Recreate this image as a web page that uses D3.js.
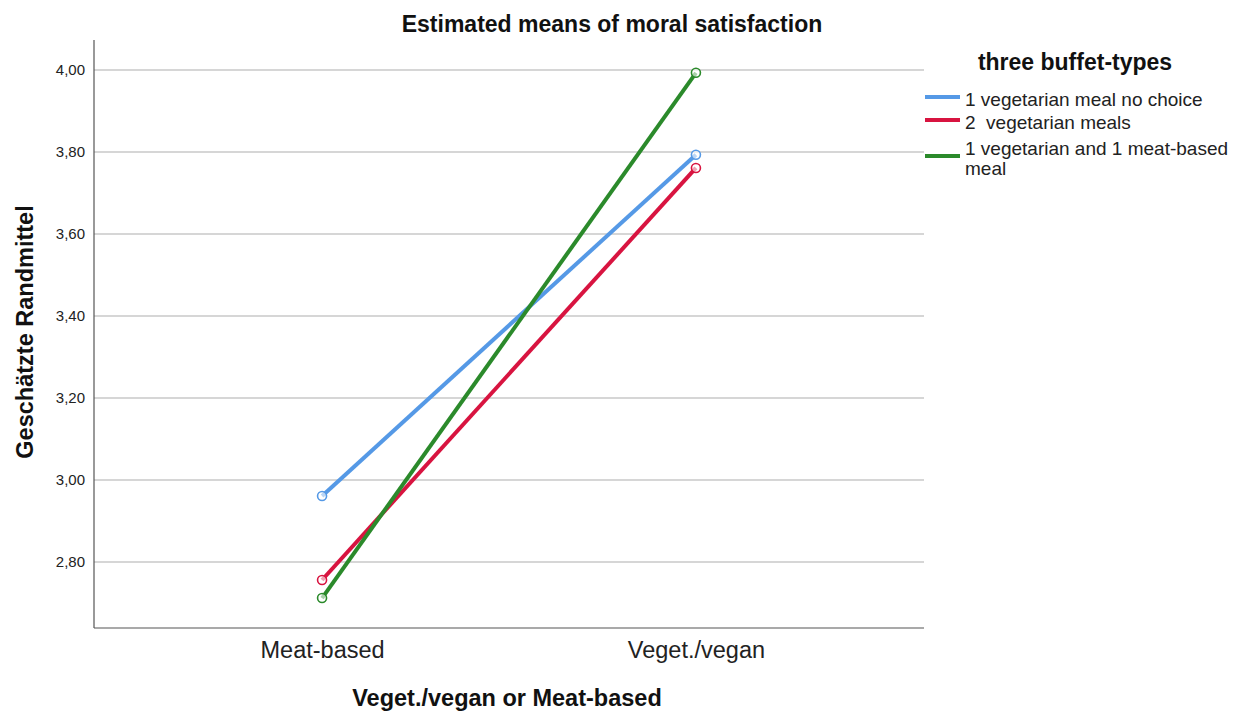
<!DOCTYPE html>
<html><head><meta charset="utf-8">
<script src="https://cdn.jsdelivr.net/npm/d3@7"></script>
<style>body{margin:0;background:#fff;font-family:"Liberation Sans",Arial,sans-serif;}</style>
</head><body><svg id="c" width="1240" height="711"></svg>
<script>
const categories = ["Meat-based", "Veget./vegan"];
const seriesNames = ["1 vegetarian meal no choice", "2  vegetarian meals", "1 vegetarian and 1 meat-based meal"];
const blueValues = [2.961, 3.793];
const redValues = [2.756, 3.761];
const greenValues = [2.712, 3.993];
const yTicks = [2.8, 3.0, 3.2, 3.4, 3.6, 3.8, 4.0];
const colors = ["#5599e6", "#d81440", "#2b8a2b"];
const series = [blueValues, redValues, greenValues];

const svg = d3.select("#c");
const L = 94, R = 924, T = 40, B = 628;
const x = d3.scalePoint().domain(categories).range([L, R]).padding(0.61);
const y = d3.scaleLinear().domain([2.639, 4.073]).range([B, T]);

// gridlines
svg.append("g").selectAll("line").data(yTicks).join("line")
  .attr("x1", L).attr("x2", R).attr("y1", d => y(d)).attr("y2", d => y(d))
  .attr("stroke", "#c8c8c8").attr("stroke-width", 1.5);

// y axis
const ya = svg.append("g").attr("transform", `translate(${L},0)`)
  .call(d3.axisLeft(y).tickValues(yTicks).tickSize(0).tickPadding(9).tickFormat(d => d3.format(".2f")(d).replace(".", ",")));
ya.select(".domain").remove();
ya.selectAll("text").attr("font-family", "Liberation Sans, Arial").attr("font-size", 15).attr("fill", "#222");
svg.append("line").attr("x1", L).attr("x2", L).attr("y1", T).attr("y2", B).attr("stroke", "#555").attr("stroke-width", 1.2);

// x axis
const xa = svg.append("g").attr("transform", `translate(0,${B})`)
  .call(d3.axisBottom(x).tickSize(0).tickPadding(13));
xa.select(".domain").remove();
xa.selectAll("text").attr("font-family", "Liberation Sans, Arial").attr("font-size", 23.5).attr("fill", "#222");
svg.append("line").attr("x1", L).attr("x2", R).attr("y1", B).attr("y2", B).attr("stroke", "#555").attr("stroke-width", 1.2);

// lines
const line = d3.line().x((d, i) => x(categories[i])).y(d => y(d));
series.forEach((vals, k) => {
  svg.append("path").datum(vals).attr("d", line).attr("fill", "none")
    .attr("stroke", colors[k]).attr("stroke-width", 4);
});
series.forEach((vals, k) => {
  svg.append("g").selectAll("circle").data(vals).join("circle")
    .attr("cx", (d, i) => x(categories[i])).attr("cy", d => y(d)).attr("r", 4.5)
    .attr("fill", "#fff").attr("fill-opacity", 0.6).attr("stroke", colors[k]).attr("stroke-width", 1.6);
});

// titles
svg.append("text").attr("x", 612).attr("y", 32).attr("text-anchor", "middle")
  .attr("font-size", 23).attr("font-weight", "bold").attr("fill", "#111").text("Estimated means of moral satisfaction");
svg.append("text").attr("x", 507).attr("y", 706).attr("text-anchor", "middle")
  .attr("font-size", 23.5).attr("font-weight", "bold").attr("fill", "#111").text("Veget./vegan or Meat-based");
svg.append("text").attr("transform", `translate(33,332) rotate(-90)`).attr("text-anchor", "middle")
  .attr("font-size", 23.5).attr("font-weight", "bold").attr("fill", "#111").text("Geschätzte Randmittel");

// legend
svg.append("text").attr("x", 1075).attr("y", 70).attr("text-anchor", "middle")
  .attr("font-size", 23).attr("font-weight", "bold").attr("fill", "#111").text("three buffet-types");
const legRows = [{ly: 97, ty: [106]}, {ly: 120, ty: [129]}, {ly: 156, ty: [155, 175]}];
const legLines = [["1 vegetarian meal no choice"], ["2  vegetarian meals"], ["1 vegetarian and 1 meat-based", "meal"]];
legRows.forEach((r, k) => {
  svg.append("line").attr("x1", 925).attr("x2", 960).attr("y1", r.ly).attr("y2", r.ly)
    .attr("stroke", colors[k]).attr("stroke-width", 4);
  legLines[k].forEach((t, j) => {
    svg.append("text").attr("x", 965).attr("y", r.ty[j]).attr("font-size", 19).attr("fill", "#222")
      .style("white-space", "pre").text(t);
  });
});
</script></body></html>
